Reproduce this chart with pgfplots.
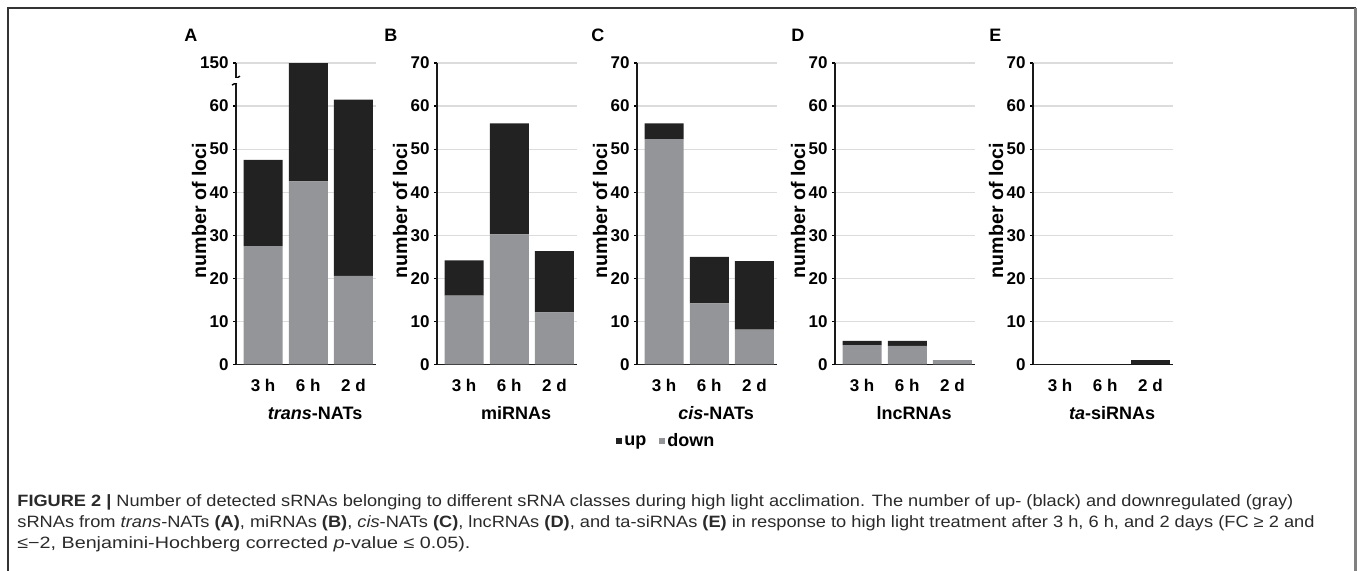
\documentclass[border=0pt]{standalone}
\usepackage{pgfplots}
\pgfplotsset{compat=1.18}
\usepackage{pgfplotstable}
\usepackage{graphicx}
\usepackage{fontspec}
\setmainfont{Liberation Sans}

\definecolor{upc}{HTML}{222222}
\definecolor{downc}{HTML}{939598}
\definecolor{gridc}{HTML}{DCDCDC}
\definecolor{capc}{HTML}{2A2A2A}

% t: 0 = 3 h, 1 = 6 h, 2 = 2 d
\pgfplotstableread{
t down up
0 27.5 20.0
1 42.5 107.5
2 20.6 40.9
}\transnats
\pgfplotstableread{
t down up
0 16.0 8.2
1 30.2 25.8
2 12.1 14.2
}\mirnas
\pgfplotstableread{
t down up
0 52.3 3.7
1 14.2 10.8
2 8.1 15.9
}\cisnats
\pgfplotstableread{
t down up
0 4.5 1.0
1 4.3 1.2
2 1.0 0.0
}\lncrnas
\pgfplotstableread{
t down up
0 0 0
1 0 0
2 0 1.0
}\tasirnas

\pgfplotsset{
  panel/.style={
    ybar stacked, bar width=19.5pt,
    scale only axis, width=70pt, height=150.75pt,
    anchor=south west,
    xmin=-0.6, xmax=2.5, ymin=0, ymax=70,
    xtick={0,1,2}, xticklabels={3 h,6 h,2 d},
    ytick={0,10,...,70},
    axis lines*=left,
    axis line style={line width=0.9pt, black!90},
    ymajorgrids, grid style={gridc, line width=0.6pt},
    x tick style={draw=none},
    y tick style={black, line width=0.6pt},
    tick align=outside, major tick length=1.5pt,
    /pgf/number format/assume math mode=true,
    ticklabel style={font=\fontsize{8.5}{10}\selectfont\bfseries},
    yticklabel style={inner sep=0pt, xshift=-2pt},
    xticklabel style={inner sep=0pt, yshift=-5.5pt},
    ylabel={number of loci},
    ylabel style={at={([xshift=-18.5pt]axis description cs:0,0.51)}, anchor=center,
      font=\fontsize{9.8}{12}\selectfont\bfseries},
    xlabel style={at={(axis description cs:0.565,-0.181)}, anchor=base,
      font=\fontsize{9}{11}\selectfont\bfseries},
    clip=false,
  },
  dn/.style={fill=downc, draw=none},
  upp/.style={fill=upc, draw=none},
}

\begin{document}
\begin{tikzpicture}
\useasboundingbox (0,0) rectangle (678.5pt,285.5pt);

% frame
\draw[black!80, line width=1pt] (4pt,0) -- (4pt,281.5pt) -- (677.75pt,281.5pt);
\draw[black!50, line width=1.5pt] (677.75pt,281.5pt) -- (677.75pt,0);

% panel letters
\foreach \l/\x in {A/92pt, B/192pt, C/295.5pt, D/395.5pt, E/494.5pt}
  \node[anchor=base west, inner sep=0, font=\fontsize{9}{11}\selectfont\bfseries] at (\x,264.5pt) {\l};

% A: broken axis, 150 drawn at the 70 mark
\begin{axis}[panel, at={(118pt,103.25pt)},
  yticklabels={0,10,20,30,40,50,60,150},
  xlabel={\textit{trans}-NATs}]
\addplot[dn] table[x=t, y=down] {\transnats};
\addplot[upp, y filter/.expression={y>100 ? y-80 : y}] table[x=t, y=up] {\transnats};
\fill[white] ([xshift=-3pt]rel axis cs:0,0.934) rectangle ([xshift=3pt]rel axis cs:0,0.949);
\draw[line width=0.7pt] ([xshift=-2pt,yshift=-1.1pt]rel axis cs:0,0.949) -- ([xshift=2pt,yshift=1.1pt]rel axis cs:0,0.949);
\draw[line width=0.7pt] ([xshift=-2pt,yshift=-1.1pt]rel axis cs:0,0.934) -- ([xshift=2pt,yshift=1.1pt]rel axis cs:0,0.934);
\end{axis}

\begin{axis}[panel, at={(218.5pt,103.25pt)}, xlabel={miRNAs}]
\addplot[dn] table[x=t, y=down] {\mirnas};
\addplot[upp] table[x=t, y=up] {\mirnas};
\end{axis}

\begin{axis}[panel, at={(318.5pt,103.25pt)}, xlabel={\textit{cis}-NATs},
  legend style={at={(axis description cs:0.207,-0.257)}, anchor=center,
    draw=none, fill=none, legend columns=-1, inner sep=0pt,
    font=\fontsize{9}{11}\selectfont\bfseries,
    nodes={inner sep=0.5pt},
    /tikz/every odd column/.append style={column sep=0.5pt},
    /tikz/every even column/.append style={column sep=6pt}},
  legend image code/.code={\fill[#1] (0pt,-1pt) rectangle (3pt,2pt);},
  reverse legend]
\addplot[dn] table[x=t, y=down] {\cisnats};
\addplot[upp] table[x=t, y=up] {\cisnats};
\legend{down, up}
\end{axis}

\begin{axis}[panel, at={(417.5pt,103.25pt)}, xlabel={lncRNAs}]
\addplot[dn] table[x=t, y=down] {\lncrnas};
\addplot[upp] table[x=t, y=up] {\lncrnas};
\end{axis}

\begin{axis}[panel, at={(516.5pt,103.25pt)}, xlabel={\textit{ta}-siRNAs}]
\addplot[dn] table[x=t, y=down] {\tasirnas};
\addplot[upp] table[x=t, y=up] {\tasirnas};
\end{axis}

% caption
\begin{scope}[every node/.style={anchor=base west, inner sep=0, text=capc, font=\fontsize{8.2}{9}\selectfont}]
\node at (8.5pt,32pt) {\resizebox{638pt}{\height}{\textbf{FIGURE 2 |} Number of detected sRNAs belonging to different sRNA classes during high light acclimation. The number of up- (black) and downregulated (gray)}};
\node at (8.5pt,21.5pt) {\resizebox{648.5pt}{\height}{sRNAs from \textit{trans}-NATs \textbf{(A)}, miRNAs \textbf{(B)}, \textit{cis}-NATs \textbf{(C)}, lncRNAs \textbf{(D)}, and ta-siRNAs \textbf{(E)} in response to high light treatment after 3 h, 6 h, and 2 days (FC ≥ 2 and}};
\node at (8.5pt,11pt) {\resizebox{226.5pt}{\height}{≤−2, Benjamini-Hochberg corrected \textit{p}-value ≤ 0.05).}};
\end{scope}
\end{tikzpicture}
\end{document}
